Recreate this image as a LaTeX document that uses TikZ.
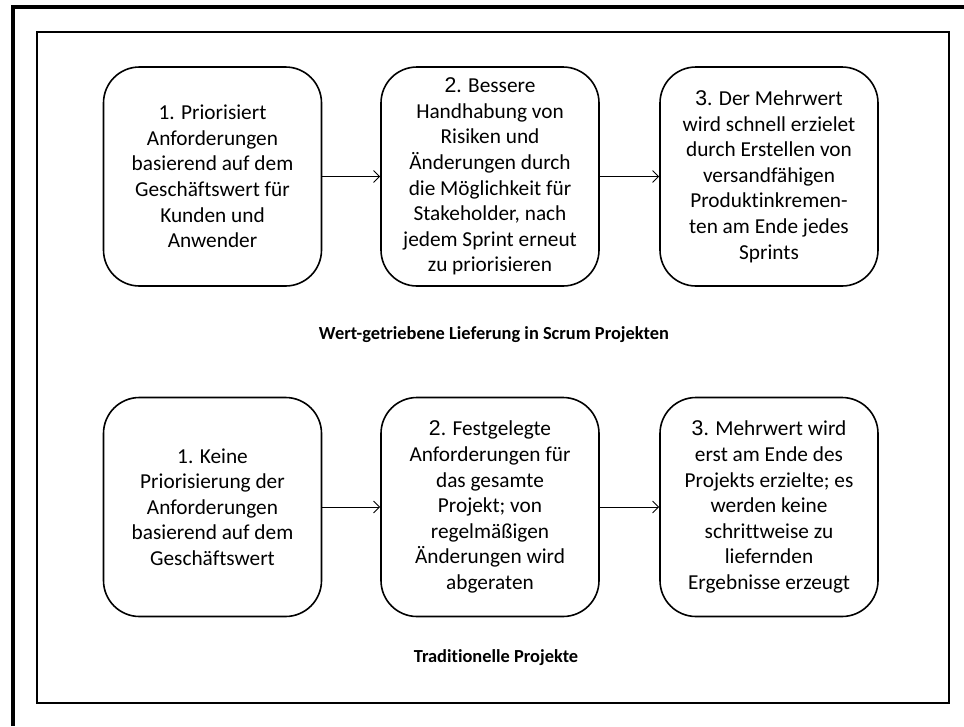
\documentclass[tikz,border=0pt]{standalone}
\usepackage{fontspec}
\setmainfont{Carlito}[Ligatures=NoCommon]
\newfontfamily\numfont{Liberation Sans}
\usetikzlibrary{arrows.meta}
\begin{document}
\begin{tikzpicture}[x=1pt,y=-1pt,
  stage/.style={draw, line width=1.6pt, rounded corners=36pt,
    minimum width=218pt, minimum height=219pt, align=center,
    font=\fontsize{21.3}{25.6}\selectfont, inner sep=2pt},
  flow/.style={line width=0.9pt, -{Straight Barb[length=6pt,width=12pt,line width=0.9pt]}},
  caption/.style={font=\fontsize{18.4}{21}\selectfont\bfseries}]
  \useasboundingbox (0,0) rectangle (964,726);
  % heavy frame along the top and left edges
  \draw[line width=4pt] (12.5,726) -- (12.5,7) -- (964,7);
  % inner border
  \draw[line width=2pt] (37,32) rectangle (949,703);

  % value-driven delivery in Scrum
  \node[stage] (s1) at (212.5,176.5) {1. Priorisiert\\Anforderungen\\basierend auf dem\\Geschäftswert für\\Kunden und\\Anwender};
  \node[stage] (s2) at (490,176.5) {{\numfont 2}. Bessere\\Handhabung von\\Risiken und\\Änderungen durch\\die Möglichkeit für\\Stakeholder, nach\\jedem Sprint erneut\\zu priorisieren};
  \node[stage] (s3) at (769,176.5) {{\numfont 3}. Der Mehrwert\\wird schnell erzielet\\durch Erstellen von\\versandfähigen\\Produktinkremen-\\ten am Ende jedes\\Sprints};
  \draw[flow] (s1.east) -- (s2.west);
  \draw[flow] (s2.east) -- (s3.west);
  \node[caption] (c1) at (494,335) {Wert-getriebene Lieferung in Scrum Projekten};

  % traditional projects
  \node[stage] (t1) at (212.5,507) {1. Keine\\Priorisierung der\\Anforderungen\\basierend auf dem\\Geschäftswert};
  \node[stage] (t2) at (490,507) {{\numfont 2}. Festgelegte\\Anforderungen für\\das gesamte\\Projekt; von\\regelmäßigen\\Änderungen wird\\abgeraten};
  \node[stage] (t3) at (769,507) {{\numfont 3}. Mehrwert wird\\erst am Ende des\\Projekts erzielte; es\\werden keine\\schrittweise zu\\liefernden\\Ergebnisse erzeugt};
  \draw[flow] (t1.east) -- (t2.west);
  \draw[flow] (t2.east) -- (t3.west);
  \node[caption] (c2) at (496,658) {Traditionelle Projekte};
\end{tikzpicture}
\end{document}
